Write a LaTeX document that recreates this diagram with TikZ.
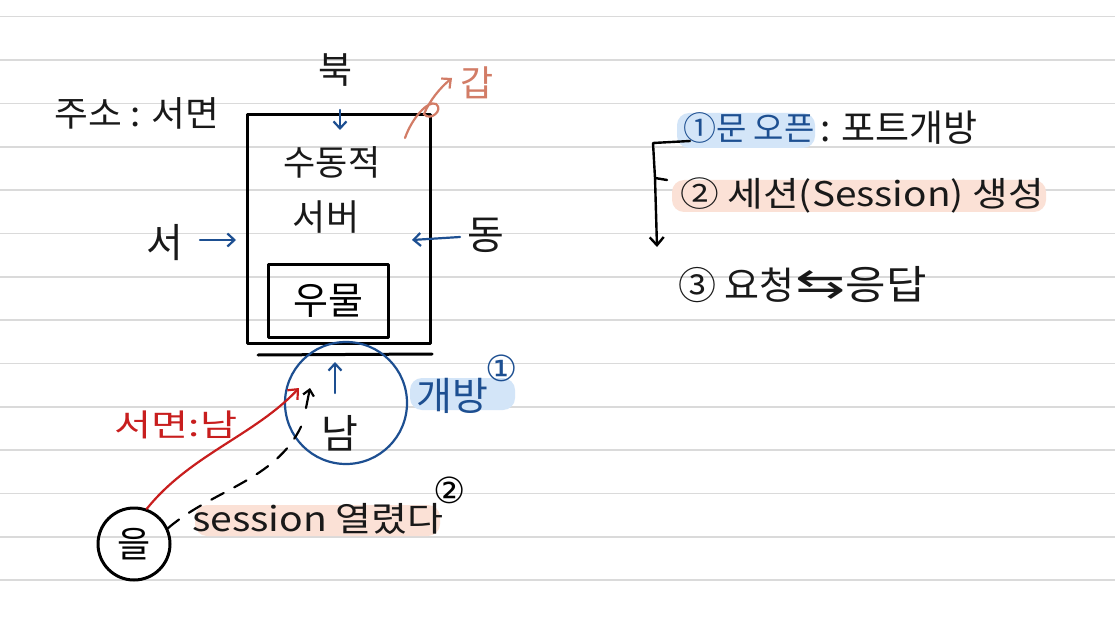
\documentclass[tikz,border=0pt]{standalone}
\usepackage{fontspec}
\usepackage{graphicx}
\setmainfont{Noto Sans CJK KR}
\newfontfamily\symfont{DejaVu Sans}
\usetikzlibrary{arrows.meta,shapes.geometric}
\definecolor{inkblue}{HTML}{1D4F91}
\definecolor{inkred}{HTML}{C81E1E}
\definecolor{inkorange}{HTML}{D27C66}
\definecolor{hlblue}{HTML}{D3E5F8}
\definecolor{hlorange}{HTML}{FBE1D6}
\definecolor{rule}{HTML}{DADADA}
\newcommand\fs[1]{\fontsize{#1}{#1}\selectfont}
\tikzset{
  txt/.style={inner sep=0pt, font=\fs{34}, text=black!90},
  circnum/.style={inner sep=0pt, font=\symfont\fs{36}},
  ink/.style={line width=3pt, line cap=round, line join=round},
  bluearr/.style={inkblue, line width=2.2pt, line cap=round, -{Straight Barb[length=7pt,width=13pt,line width=2.2pt]}},
  hl/.style={rounded corners=12pt, draw=none}
}
\begin{document}
\begin{tikzpicture}[x=1pt,y=-1pt]
\useasboundingbox (0,0) rectangle (1115,620);
\fill[white] (0,0) rectangle (1115,620);
% ruled lines
\foreach \k in {0,...,13} {
  \draw[rule, line width=1.6pt] (0,{16.7+43.35*\k}) -- (1115,{16.7+43.35*\k});
}
% highlights
\fill[hlblue, hl] (410,378) rectangle (515,410);
\fill[hlorange, hl] (195,505) rectangle (440,536);
\fill[hlblue, hl] (677,113) rectangle (815,148);
\fill[hlorange, hl] (672,180) rectangle (1046,212);

% left diagram
\node[txt, font=\fs{35}] (addr) at (137,113) {\scalebox{1.05}[1]{주소 : 서면}};
\node[txt, font=\fs{37}] (buk) at (336,70) {북};
\node[txt, text=inkorange, font=\fs{36}] (gap) at (477,83) {갑};
\node[draw, ink, minimum width=183pt, minimum height=228pt, inner sep=0pt] (server) at (338.5,229) {};
\draw[ink] (258,355) -- (432,354);
\node[txt, font=\fs{35}] (sudong) at (332,162) {수동적};
\node[txt, font=\fs{36}] (seobeo) at (326,217) {서버};
\node[draw, ink, minimum width=120pt, minimum height=73pt, inner sep=0pt, font=\fs{38}] (well) at (328,301) {우물};
\node[txt, font=\fs{40}] (seo) at (165,243) {서};
\node[txt, font=\fs{40}] (dong) at (486,235) {동};

\coordinate (nIn) at (340,130);
\coordinate (wIn) at (236,240);
\coordinate (eIn) at (412,240);
\draw[bluearr] (340,110) -- (nIn);
\draw[bluearr] (200,240) -- (wIn);
\draw[bluearr] (460,237) -- (eIn);
\draw[inkorange, line width=2.2pt, line cap=round, -{Straight Barb[length=7pt,width=13pt,line width=2.2pt]}]
  (405,138) .. controls (412,118) and (428,100) .. (436,104) .. controls (444,110) and (430,122) .. (424,114) .. controls (430,100) and (440,88) .. (452,78);

% south circle
\node[draw=inkblue, circle, line width=2.2pt, minimum size=122pt, inner sep=0pt] (south) at (346,403) {};
\node[txt, font=\fs{40}] (nam) at (340,433) {남};
\coordinate (openTip) at (335,362);
\draw[bluearr] (335,393) -- (openTip);
\node[txt, text=inkblue, font=\fs{39}] (open) at (452,396) {개방};
\node[circnum, text=inkblue] (c1) at (502,368) {①};

% eul circle and connectors
\node[draw, circle, ink, minimum size=72pt, inner sep=0pt, font=\fs{36}] (eul) at (134,544) {을};
\node[txt, text=inkred, font=\fs{31}] (seomyeon) at (176,425) {\scalebox{1.3}[1]{서면:남}};
\coordinate (redTip) at (299,388);
\coordinate (dashTip) at (310,388);
\draw[inkred, line width=2.2pt, line cap=round, -{Straight Barb[length=8pt,width=14pt,line width=2.2pt]}]
  (eul.70) .. controls (190,455) and (255,435) .. (redTip);
\draw[black, line width=2.2pt, dash pattern=on 14pt off 12pt, line cap=round]
  (eul.25) .. controls (215,488) and (280,480) .. (304,420);
\draw[black, line width=2.2pt, line cap=round, -{Straight Barb[length=6pt,width=11pt,line width=2.2pt]}]
  (306,408) -- (dashTip);
\node[txt, font=\fs{34}] (sess) at (318,519) {\scalebox{1.15}[1]{session 열렸다}};
\node[circnum] (c2) at (450,490) {②};

% right notes
\node[txt, text=inkblue, anchor=west, font=\fs{33}] (s1) at (683,128) {①문 오픈};
\node[txt, anchor=west, font=\fs{37}] (s1b) at (820,128) {: 포트개방};
\node[txt, anchor=west, font=\fs{34}] (s2) at (680,195) {\scalebox{1.14}[1]{② 세션(Session) 생성}};
\node[txt, anchor=west, font=\fs{38}] (s3a) at (678,285) {③ 요청};
\node[txt, anchor=west, font=\symfont\fs{40}] (s3arr) at (s3a.east) {\scalebox{1.5}[1]{⇆}};
\node[txt, anchor=west, font=\fs{40}] (s3b) at (s3arr.east) {\scalebox{1.1}[1]{응답}};
\coordinate (brTop) at (690,141);
\coordinate (brEnd) at (657,247);
\draw[ink, line width=2.4pt] (brTop) -- (653,143) -- (655,178) -- (667,180);
\draw[black, line width=2.4pt, line cap=round, -{Straight Barb[length=8pt,width=14pt,line width=2.4pt]}] (655,178) -- (brEnd);
\end{tikzpicture}
\end{document}
